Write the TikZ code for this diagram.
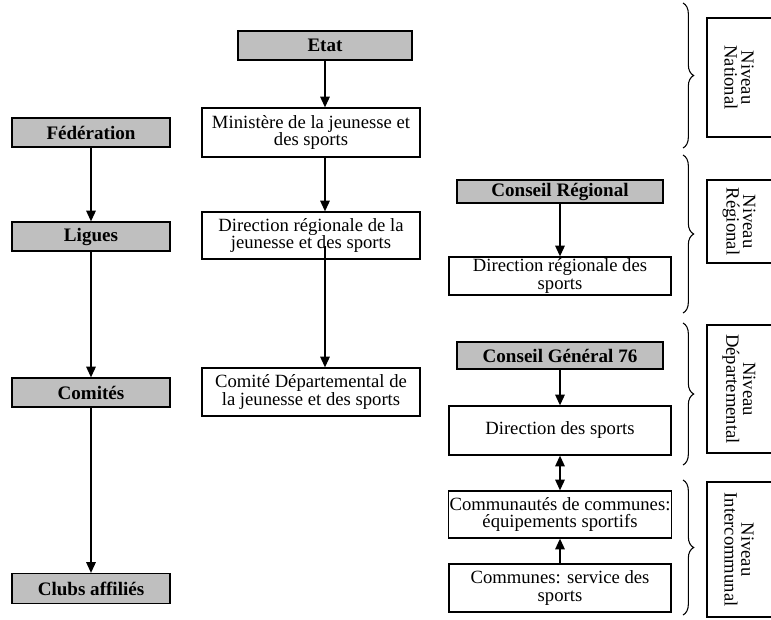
\documentclass[tikz,border=0pt]{standalone}
\usepackage{fontspec}
\setmainfont{Liberation Serif}
\usetikzlibrary{arrows.meta,decorations.pathreplacing}
\tikzset{
  box/.style={draw, line width=0.9pt, inner sep=1pt, align=center, font=\fontsize{14}{13.2}\selectfont},
  gbox/.style={box, fill=black!25, font=\fontsize{14.3}{13.2}\selectfont\bfseries},
  sz/.style 2 args={minimum width=#1*0.75pt, minimum height=#2*0.75pt},
  arr/.style={line width=1.3pt, -{Triangle[width=7pt,length=8pt]}},
  darr/.style={line width=1.3pt, {Triangle[width=7pt,length=8pt]}-{Triangle[width=7pt,length=8pt]}},
  brc/.style={decorate, decoration={brace, amplitude=8pt}, line width=0.8pt},
  lbox/.style={draw, line width=0.9pt},
  lbl/.style={align=center, rotate=-90, font=\fontsize{14}{12.5}\selectfont, inner sep=0pt}
}
\begin{document}
\begin{tikzpicture}[x=0.75pt,y=-0.75pt]
\useasboundingbox (0,0) rectangle (771,619);
\begin{scope}
\clip (0,0) rectangle (771,619);
% left column
\node[gbox, sz={158}{29}] (fed) at (91,132.5) {Fédération};
\node[gbox, sz={158}{29}] (lig) at (91,236.5) {Ligues};
\node[gbox, sz={158}{29}] (com) at (91,392.5) {Comités};
\node[gbox, sz={158}{30}] (clu) at (91,588.5) {Clubs affiliés};
% middle column
\node[gbox, sz={174}{29}] (etat) at (325,45.5) {Etat};
\node[box, sz={218}{49}] (min) at (311,132.5) {Ministère de la jeunesse et\\des sports};
\node[box, sz={218}{47}] (drj) at (311,235.5) {Direction régionale de la\\jeunesse et des sports};
\node[box, sz={218}{48}] (cdj) at (311,392) {Comité Départemental de\\la jeunesse et des sports};
\coordinate (drjs) at (325,246);
% right column
\node[gbox, sz={206}{23}] (cr) at (560,191.5) {Conseil Régional};
\node[box, sz={222}{38}] (drs) at (560,276) {Direction régionale des\\sports};
\node[gbox, sz={206}{27}] (cg) at (560,355.5) {Conseil Général 76};
\node[box, sz={222}{49}] (ds) at (560,430.5) {Direction des sports};
\node[box, sz={222}{47}] (cc) at (560,514.5) {Communautés de communes:\\équipements sportifs};
\node[box, sz={222}{48}] (cm) at (560,588) {Communes: service des\\sports};
% arrows
\draw[arr] (fed.south) -- (lig.north);
\draw[arr] (lig.south) -- (com.north);
\draw[arr] (com.south) -- (clu.north);
\draw[arr] (etat.south) -- (etat.south |- min.north);
\draw[arr] (etat.south |- min.south) -- (etat.south |- drj.north);
\draw[arr] (drjs) -- (drjs |- cdj.north);
\draw[arr] (cr.south) -- (cr.south |- drs.north);
\draw[arr] (cg.south) -- (cg.south |- ds.north);
\draw[darr] (ds.south) -- (cc.north);
\draw[arr] (cm.north) -- (cc.south);
% braces
\coordinate (b1t) at (683,3);   \coordinate (b1b) at (683,148);
\coordinate (b2t) at (683,155); \coordinate (b2b) at (683,313);
\coordinate (b3t) at (683,323); \coordinate (b3b) at (683,465);
\coordinate (b4t) at (683,480); \coordinate (b4b) at (683,615);
\draw[brc] (b1t) -- (b1b);
\draw[brc] (b2t) -- (b2b);
\draw[brc] (b3t) -- (b3b);
\draw[brc] (b4t) -- (b4b);
% level boxes
\draw[lbox] (790,18) -- (707,18) -- (707,137) -- (790,137);
\draw[lbox] (790,180) -- (707,180) -- (707,263) -- (790,263);
\draw[lbox] (790,325) -- (707,325) -- (707,453) -- (790,453);
\draw[lbox] (790,482) -- (707,482) -- (707,617) -- (790,617);
\node[lbl] (l1) at (739,77.5) {Niveau\\National};
\node[lbl] (l2) at (739,221.5) {Niveau\\Régional};
\node[lbl] (l3) at (739,389) {Niveau\\Départemental};
\node[lbl] (l4) at (739,549.5) {Niveau\\Intercommunal};
\end{scope}
\end{tikzpicture}
\end{document}
